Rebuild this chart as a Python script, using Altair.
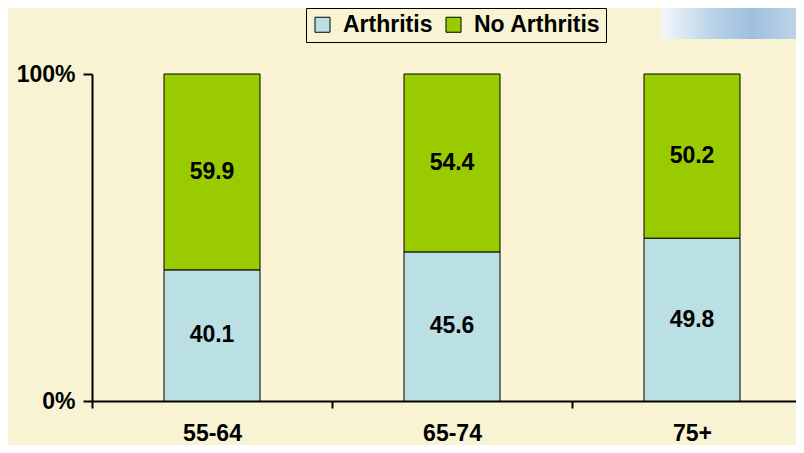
import altair as alt
import pandas as pd

categories = ["55-64", "65-74", "75+"]
arthritis = [40.1, 45.6, 49.8]
no_arthritis = [59.9, 54.4, 50.2]
series = ["Arthritis", "No Arthritis"]
colors = ["#BBE0E4", "#9ACB00"]
BG = "#F8F4D3"
FONT = "Liberation Sans"

rows = []
for i, c in enumerate(categories):
    rows.append({"cat": c, "series": series[0], "value": arthritis[i], "ord": 0})
    rows.append({"cat": c, "series": series[1], "value": no_arthritis[i], "ord": 1})
df = pd.DataFrame(rows)

xenc = alt.X("cat:N", sort=categories,
             scale=alt.Scale(range=[0, 720], paddingInner=0, paddingOuter=0),
             axis=alt.Axis(title=None, labelAngle=0, tickBand="extent", tickSize=7,
                           tickWidth=2, tickColor="black", domainColor="black",
                           domainWidth=2, labelFont=FONT, labelFontSize=23,
                           labelFontWeight="bold", labelColor="black",
                           labelPadding=14))

base = alt.Chart(df)

bars = base.mark_bar(size=96, stroke="black", strokeWidth=1).encode(
    x=xenc,
    y=alt.Y("value:Q", stack="zero",
            scale=alt.Scale(domain=[0, 100], nice=False),
            axis=alt.Axis(title=None, values=[0, 100], labelExpr="datum.value + '%'",
                          grid=False, tickSize=9, tickWidth=2, tickColor="black",
                          domainColor="black", domainWidth=2, labelFont=FONT,
                          labelFontSize=23, labelFontWeight="bold",
                          labelColor="black", labelPadding=8)),
    color=alt.Color("series:N", sort=series,
                    scale=alt.Scale(domain=series, range=colors),
                    legend=alt.Legend(title=None, orient="none", legendX=214, legendY=-66,
                                      direction="horizontal", symbolType="square",
                                      symbolSize=225, symbolStrokeColor="black",
                                      symbolStrokeWidth=1, symbolOpacity=1,
                                      labelFont=FONT, labelFontSize=23,
                                      labelFontWeight="bold", labelColor="black",
                                      columnPadding=9, labelOffset=9, padding=5,
                                      strokeColor="black", fillColor=BG)),
    order=alt.Order("ord:Q"),
)

labels = base.transform_stack(
    stack="value", groupby=["cat"], as_=["y0", "y1"],
    sort=[alt.SortField("ord", order="ascending")]
).transform_calculate(
    mid="(datum.y0 + datum.y1) / 2"
).mark_text(font=FONT, fontSize=23, fontWeight="bold", color="black",
            baseline="middle").encode(
    x=alt.X("cat:N", sort=categories),
    y=alt.Y("mid:Q"),
    text=alt.Text("value:Q", format=".1f"),
)

# decorative picture in the top-right corner (approximated by a gradient panel)
picture = alt.Chart(pd.DataFrame({"k": [0]})).mark_rect(
    fill=alt.Gradient(
        gradient="linear", x1=0, x2=1, y1=0, y2=0,
        stops=[alt.GradientStop(color="#F4F7FA", offset=0),
               alt.GradientStop(color="#B9D2E8", offset=0.35),
               alt.GradientStop(color="#9FC0DE", offset=0.6),
               alt.GradientStop(color="#C8DAEA", offset=1)]),
).encode(x=alt.value(569), x2=alt.value(720), y=alt.value(-74), y2=alt.value(-35))

chart = alt.layer(picture, bars, labels).properties(
    width=704, height=327,
    background=BG,
    padding={"left": 84, "top": 66, "right": 0, "bottom": 44},
    autosize=alt.AutoSizeParams(type="none"),
).configure_view(stroke=None, fill=BG)

chart.save("out.html", embed_options={"renderer": "svg", "actions": False})
